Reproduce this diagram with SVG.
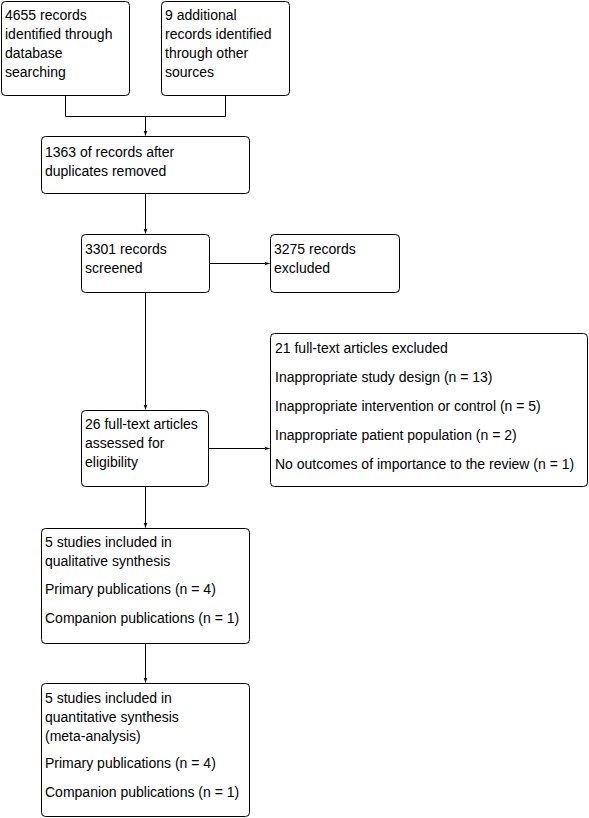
<svg xmlns="http://www.w3.org/2000/svg" width="589" height="818" viewBox="0 0 589 818">
<style>
.box{fill:#fff;stroke:#000;stroke-width:1}
.t{font-family:"Liberation Sans",Arial,sans-serif;font-size:14px;fill:#000}
.c{fill:none;stroke:#000;stroke-width:1}
</style>
<defs>
<marker id="ah" viewBox="0 0 10 10" refX="10" refY="5" markerWidth="5" markerHeight="5" orient="auto" markerUnits="userSpaceOnUse">
<path d="M0,1 L10,5 L0,9 Z" fill="#000"/>
</marker>
</defs>
<rect width="589" height="818" fill="#fff"/>
<g id="connectors">
<path class="c" d="M65.5,95.5 V116.5 H225.5 V95.5"/>
<path class="c" d="M145.5,116.5 V135.5" marker-end="url(#ah)"/>
<path class="c" d="M145.5,193.5 V233.5" marker-end="url(#ah)"/>
<path class="c" d="M209.5,263.5 H269.5" marker-end="url(#ah)"/>
<path class="c" d="M145.5,292.5 V409.5" marker-end="url(#ah)"/>
<path class="c" d="M208.5,448.5 H269.5" marker-end="url(#ah)"/>
<path class="c" d="M145.5,486.5 V527.5" marker-end="url(#ah)"/>
<path class="c" d="M145.5,643.5 V682.5" marker-end="url(#ah)"/>
</g>
<g id="n1">
<rect class="box" x="1.5" y="1.5" width="128" height="94" rx="4"/>
<text class="t" x="5" y="20">4655 records</text>
<text class="t" x="5" y="39">identified through</text>
<text class="t" x="5" y="58">database</text>
<text class="t" x="5" y="77">searching</text>
</g>
<g id="n2">
<rect class="box" x="161.5" y="1.5" width="128" height="94" rx="4"/>
<text class="t" x="165" y="20">9 additional</text>
<text class="t" x="165" y="39">records identified</text>
<text class="t" x="165" y="58">through other</text>
<text class="t" x="165" y="77">sources</text>
</g>
<g id="n3">
<rect class="box" x="41.5" y="136.5" width="208" height="57" rx="4"/>
<text class="t" x="45" y="157">1363 of records after</text>
<text class="t" x="45" y="176">duplicates removed</text>
</g>
<g id="n4">
<rect class="box" x="81.5" y="234.5" width="128" height="58" rx="4"/>
<text class="t" x="85" y="254">3301 records</text>
<text class="t" x="85" y="273">screened</text>
</g>
<g id="n5">
<rect class="box" x="270.5" y="234.5" width="129" height="58" rx="4"/>
<text class="t" x="274" y="254">3275 records</text>
<text class="t" x="274" y="273">excluded</text>
</g>
<g id="n6">
<rect class="box" x="81.5" y="410.5" width="127" height="76" rx="4"/>
<text class="t" x="85" y="429">26 full-text articles</text>
<text class="t" x="85" y="448">assessed for</text>
<text class="t" x="85" y="467">eligibility</text>
</g>
<g id="n7">
<rect class="box" x="270.5" y="333.5" width="317" height="153" rx="4"/>
<text class="t" x="275" y="353">21 full-text articles excluded</text>
<text class="t" x="275" y="382">Inappropriate study design (n = 13)</text>
<text class="t" x="275" y="411">Inappropriate intervention or control (n = 5)</text>
<text class="t" x="275" y="440">Inappropriate patient population (n = 2)</text>
<text class="t" x="275" y="469">No outcomes of importance to the review (n = 1)</text>
</g>
<g id="n8">
<rect class="box" x="41.5" y="528.5" width="208" height="115" rx="4"/>
<text class="t" x="45" y="547">5 studies included in</text>
<text class="t" x="45" y="566">qualitative synthesis</text>
<text class="t" x="45" y="594">Primary publications (n = 4)</text>
<text class="t" x="45" y="623">Companion publications (n = 1)</text>
</g>
<g id="n9">
<rect class="box" x="41.5" y="683.5" width="208" height="133" rx="4"/>
<text class="t" x="45" y="703">5 studies included in</text>
<text class="t" x="45" y="722">quantitative synthesis</text>
<text class="t" x="45" y="741">(meta-analysis)</text>
<text class="t" x="45" y="768">Primary publications (n = 4)</text>
<text class="t" x="45" y="797">Companion publications (n = 1)</text>
</g>
</svg>
